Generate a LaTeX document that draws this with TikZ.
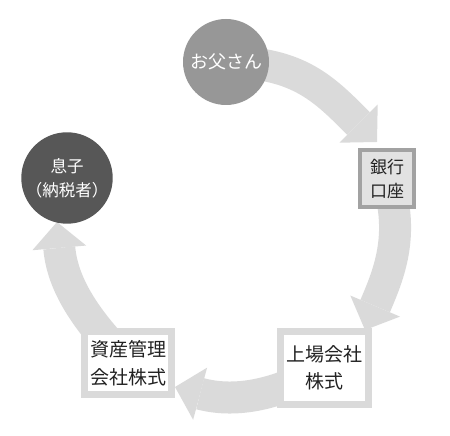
\documentclass[tikz,border=0pt]{standalone}
\usepackage{fontspec}
\newfontfamily\jpfont{Noto Sans CJK JP}
\usetikzlibrary{arrows.meta,backgrounds}
\definecolor{flowgray}{HTML}{DADADA}
\definecolor{dadgray}{HTML}{979797}
\definecolor{songray}{HTML}{575757}
\definecolor{bankedge}{HTML}{A2A2A2}
\definecolor{bankfill}{HTML}{E2E2E2}
\definecolor{inkgray}{HTML}{222222}
\tikzset{
  person/.style={circle, minimum size=86pt, inner sep=0pt, text=white, align=center},
  account/.style={draw=bankedge, line width=4pt, fill=bankfill, minimum width=54pt, minimum height=57pt, inner sep=0pt, align=center, text=inkgray},
  holding/.style={draw=flowgray, line width=7pt, fill=white, inner sep=0pt, align=center, text=inkgray},
  flow/.style={draw=flowgray, line width=32pt, -{Triangle[width=54pt,length=26pt,line width=0pt]}},
}
\begin{document}
\begin{tikzpicture}[x=1pt,y=1pt]
  \useasboundingbox (0,0) rectangle (450,436);
  \node[person, fill=dadgray, font=\jpfont\fontsize{18}{24}\selectfont] (dad) at (226,374) {お父さん};
  \node[person, fill=songray, minimum size=84pt, font=\jpfont\fontsize{16.5}{24}\selectfont] (son) at (67,258) {息子\\（納税者）};
  \node[account, font=\jpfont\fontsize{17}{23.5}\selectfont] (bank) at (387,257) {銀行\\口座};
  \node[holding, minimum width=88pt, minimum height=73pt, font=\jpfont\fontsize{19}{27.5}\selectfont] (listed) at (324.5,68) {上場会社\\株式};
  \node[holding, minimum width=87pt, minimum height=63pt, font=\jpfont\fontsize{19}{28}\selectfont] (firm) at (128,73) {資産管理\\会社株式};
  \coordinate (tip1) at (377,294);
  \coordinate (tip2) at (365,106);
  \coordinate (tip3) at (175,49);
  \coordinate (tip4) at (57,214);
  \begin{scope}[on background layer]
    \draw[flow, out=0, in=135, looseness=1.1] (dad.center) to (tip1);
    \draw[flow, out=-72, in=67] (bank.center) to (tip2);
    \draw[flow, out=-150, in=-15] (listed.center) to (tip3);
    \draw[flow, out=135, in=-85] (firm.center) to (tip4);
  \end{scope}
\end{tikzpicture}
\end{document}
